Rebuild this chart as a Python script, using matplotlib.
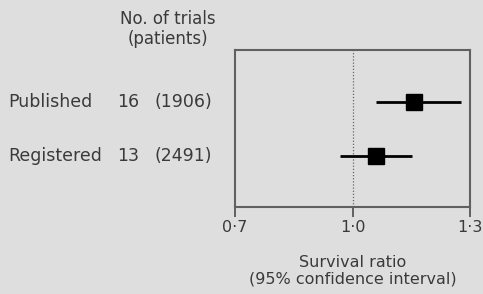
import matplotlib.pyplot as plt

groups = ["Published", "Registered"]
trials = ["16", "13"]
patients = ["(1906)", "(2491)"]
ratio = [1.156, 1.061]
ci_low = [1.059, 0.967]
ci_high = [1.276, 1.153]
xticks = [0.7, 1.0, 1.3]
xticklabels = ["0·7", "1·0", "1·3"]

plt.rcParams['font.family'] = ['DejaVu Sans']
bg = "#dedede"
txt = "#3a3a3a"

fig = plt.figure(figsize=(4.83, 2.94), dpi=100, facecolor=bg)
ax = fig.add_axes([235 / 483, 1 - 207 / 294, 235 / 483, 157 / 294])
ax.set_facecolor(bg)

ax.set_xlim(0.7, 1.3)
ax.set_ylim(0, 1)
ypos = [1 - (102 - 50) / 157, 1 - (156 - 50) / 157]

ax.axvline(1.0, color="#666666", lw=0.9, ls=(0, (1, 1.5)))
for y, m, lo, hi in zip(ypos, ratio, ci_low, ci_high):
    ax.plot([lo, hi], [y, y], color="black", lw=2, solid_capstyle="butt")
    ax.plot(m, y, marker="s", ms=11.5, color="black")

for s in ax.spines.values():
    s.set_color("#606060")
    s.set_linewidth(1.5)
ax.set_yticks([])
ax.set_xticks(xticks)
ax.set_xticklabels(xticklabels, fontsize=11.5, color=txt)
ax.tick_params(axis="x", length=7, width=1.4, color="#606060", pad=2)

# row labels
for y, g, n, p in zip(ypos, groups, trials, patients):
    yf = 1 - (50 + (1 - y) * 157) / 294
    fig.text(8 / 483, yf, g, fontsize=12.5, color=txt, va="center", ha="left")
    fig.text(117 / 483, yf, n, fontsize=12.5, color=txt, va="center", ha="left")
    fig.text(212 / 483, yf, p, fontsize=12.5, color=txt, va="center", ha="right")

fig.text(168 / 483, 1 - 29 / 294, "No. of trials\n(patients)", fontsize=12,
         color=txt, ha="center", va="center", linespacing=1.1)

fig.text(353 / 483, 1 - 271 / 294, "Survival ratio\n(95% confidence interval)",
         fontsize=11.5, color=txt, ha="center", va="center", linespacing=1.1)

fig.savefig("out.png", dpi=100, facecolor=bg)
